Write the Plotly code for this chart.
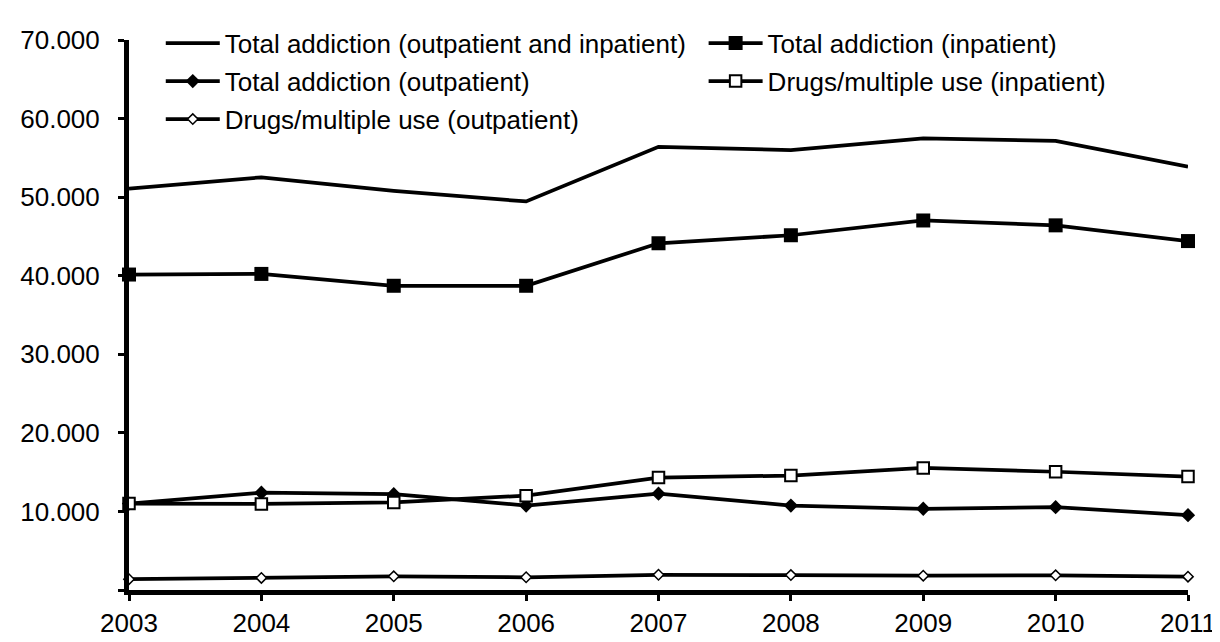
import plotly.graph_objects as go

years = [2003, 2004, 2005, 2006, 2007, 2008, 2009, 2010, 2011]

total_all = [51080, 52520, 50800, 49450, 56410, 56000, 57470, 57150, 53870]
total_inpatient = [40150, 40230, 38720, 38720, 44130, 45150, 47030, 46410, 44410]
total_outpatient = [11000, 12380, 12190, 10750, 12260, 10750, 10340, 10540, 9520]
drugs_inpatient = [11000, 10960, 11150, 12010, 14310, 14560, 15540, 15050, 14430]
drugs_outpatient = [1380, 1540, 1740, 1620, 1940, 1900, 1820, 1870, 1700]

y_ticks = [0, 10000, 20000, 30000, 40000, 50000, 60000, 70000]
y_labels = ["", "10.000", "20.000", "30.000", "40.000", "50.000", "60.000", "70.000"]

font = dict(family="Liberation Sans, Arial, sans-serif", size=26, color="black")
lw = 3.75

fig = go.Figure()
# left legend column
fig.add_trace(go.Scatter(
    x=years, y=total_all, name="Total addiction (outpatient and inpatient)",
    mode="lines", line=dict(color="black", width=lw),
    legend="legend", legendgroup="a"))
fig.add_trace(go.Scatter(
    x=years, y=total_outpatient, name="Total addiction (outpatient)",
    mode="lines+markers", line=dict(color="black", width=lw),
    marker=dict(symbol="diamond", size=11, color="black"),
    legend="legend", legendgroup="b"))
fig.add_trace(go.Scatter(
    x=years, y=drugs_outpatient, name="Drugs/multiple use (outpatient)",
    mode="lines+markers", line=dict(color="black", width=lw),
    marker=dict(symbol="diamond", size=8, color="white",
                line=dict(color="black", width=1.5)),
    legend="legend", legendgroup="c"))
# right legend column
fig.add_trace(go.Scatter(
    x=years, y=total_inpatient, name="Total addiction (inpatient)",
    mode="lines+markers", line=dict(color="black", width=lw),
    marker=dict(symbol="square", size=14, color="black"),
    legend="legend2", legendgroup="d"))
fig.add_trace(go.Scatter(
    x=years, y=drugs_inpatient, name="Drugs/multiple use (inpatient)",
    mode="lines+markers", line=dict(color="black", width=lw),
    marker=dict(symbol="square", size=11.5, color="white",
                line=dict(color="black", width=2)),
    legend="legend2", legendgroup="e"))

fig.update_traces(cliponaxis=False)

fig.update_xaxes(
    range=[2003, 2011], tickvals=years, showgrid=False, zeroline=False,
    showline=True, linewidth=5, linecolor="black",
    ticks="outside", ticklen=6, tickwidth=3, tickcolor="black",
    tickfont=font)
fig.update_yaxes(
    range=[0, 70000], tickvals=y_ticks, ticktext=y_labels,
    showgrid=False, zeroline=False,
    showline=True, linewidth=5, linecolor="black",
    ticks="outside", ticklen=6, tickwidth=3, tickcolor="black",
    tickfont=font, ticklabelstandoff=13)

legend_style = dict(
    orientation="v", xanchor="left", yanchor="top", y=1.037,
    font=font, itemwidth=54, tracegroupgap=1.2, traceorder="grouped",
    bgcolor="rgba(0,0,0,0)")

fig.update_layout(
    width=1220, height=642,
    margin=dict(l=115, r=30, t=29, b=44),
    plot_bgcolor="white", paper_bgcolor="white",
    font=font,
    legend=dict(legend_style, x=0.03),
    legend2=dict(legend_style, x=0.5426),
)

fig.write_html("out.html")
